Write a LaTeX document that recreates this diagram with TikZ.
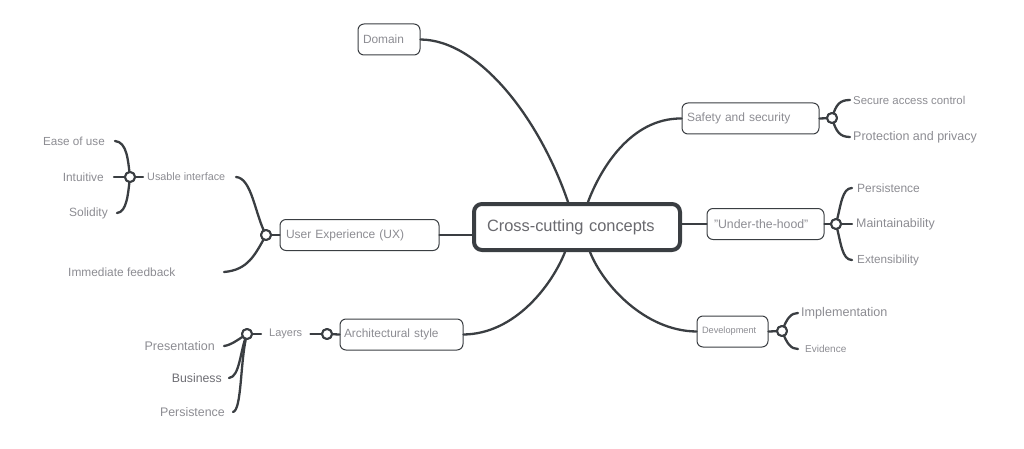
\documentclass[tikz,border=0pt]{standalone}
\usepackage{fontspec}
\setmainfont{Liberation Sans}
\usetikzlibrary{positioning}
\definecolor{linegray}{RGB}{58,62,66}
\definecolor{txtgray}{RGB}{140,140,146}
\definecolor{maingray}{RGB}{105,105,110}
\newcommand\fsz[1]{\fontsize{#1}{#1}\selectfont}
\begin{document}
\begin{tikzpicture}[x=1pt, y=-1pt, line join=round, line cap=round,
		branch/.style={draw=linegray, line width=2.3pt},
		topic/.style={draw=linegray, line width=1pt, rounded corners=6pt, text=txtgray, inner xsep=5pt, inner ysep=0pt, minimum height=31pt, align=left},
		leaf/.style={text=txtgray, inner sep=0pt},
		knob/.style={circle, draw=linegray, fill=white, line width=2pt, minimum size=10pt, inner sep=0pt}]
	\useasboundingbox (0,0) rectangle (1024,449);
	% central topic
	\node[draw=linegray, line width=4pt, rounded corners=8pt, text=maingray, minimum width=206pt, minimum height=46pt, inner xsep=13pt, text width=180pt, align=left, font=\fsz{16.4}] (cc) at (577,227) {Cross-cutting concepts};
	% main topics
	\node[topic, minimum width=62pt, text width=52pt, font=\fsz{11.9}] (dom) at (389,39.5) {Domain};
	\node[topic, minimum width=137pt, text width=127pt, font=\fsz{12}] (safe) at (750.5,118.5) {Safety and security};
	\node[topic, minimum width=113pt, text width=103pt, inner xsep=7pt, font=\fsz{12.3}] (uth) at (765.5,224) {"Under-the-hood"};
	\node[topic, minimum width=71pt, text width=61pt, font=\fsz{9.2}] (dev) at (732.5,331.5) {Development};
	\node[topic, minimum width=159pt, text width=147pt, inner xsep=6pt, font=\fsz{12}] (ux) at (359.5,235) {User Experience (UX)};
	\node[topic, minimum width=123pt, text width=115pt, inner xsep=4pt, font=\fsz{11.9}] (arch) at (401.5,334.5) {Architectural style};
	% connectors from the centre
	\draw[branch] (dom.east) .. controls (480,40) and (540,120) .. ([xshift=-9pt]cc.north);
	\draw[branch] ([xshift=11pt]cc.north) .. controls (600,170) and (630,118) .. (safe.west);
	\draw[branch] (uth.west -| cc.east) -- (uth.west);
	\draw[branch] ([xshift=13pt]cc.south) .. controls (603,285) and (645,331) .. (dev.west);
	\draw[branch] (ux.east) -- (ux.east -| cc.west);
	\draw[branch] (arch.east) .. controls (515,334) and (552,285) .. ([xshift=-12pt]cc.south);
	% knobs
	\node[knob] (sk) at (832,118) {};
	\node[knob] (uk) at (836,224) {};
	\node[knob] (dk) at (782,331) {};
	\node[knob] (uxk) at (266,235) {};
	\node[knob] (uik) at (130,177) {};
	\node[knob] (ak) at (327,334) {};
	\node[knob] (lk) at (247,334) {};
	% leaves
	\node[leaf, anchor=west, font=\fsz{11.4}] (sac) at (853,100) {Secure access control};
	\node[leaf, anchor=west, font=\fsz{12.5}] (pp) at (853,137) {Protection and privacy};
	\node[leaf, anchor=west, font=\fsz{12}] (pers) at (857,188) {Persistence};
	\node[leaf, anchor=west, font=\fsz{12.4}] (maint) at (856,224) {Maintainability};
	\node[leaf, anchor=west, font=\fsz{11.7}] (ext) at (857,260) {Extensibility};
	\node[leaf, anchor=west, font=\fsz{12.6}] (impl) at (801,313) {Implementation};
	\node[leaf, anchor=west, font=\fsz{10}] (evid) at (805,349) {Evidence};
	\node[leaf, anchor=west, font=\fsz{10.8}] (usable) at (147,177) {Usable interface};
	\node[leaf, anchor=west, font=\fsz{11.9}] (imm) at (68,272) {Immediate feedback};
	\node[leaf, anchor=east, font=\fsz{11.7}] (ease) at (105,141) {Ease of use};
	\node[leaf, anchor=east, font=\fsz{11.9}] (intu) at (104,177) {Intuitive};
	\node[leaf, anchor=east, font=\fsz{12}] (soli) at (108,213) {Solidity};
	\node[leaf, anchor=west, font=\fsz{11}] (layers) at (269,334) {Layers};
	\node[leaf, anchor=east, font=\fsz{12.5}] (pres) at (215,346) {Presentation};
	\node[leaf, anchor=east, font=\fsz{12.3}, text=maingray!85!txtgray] (bus) at (222,378) {Business};
	\node[leaf, anchor=east, font=\fsz{12.4}] (pers2) at (225,412) {Persistence};
	% free ends of the UX branches
	\coordinate (uxa) at (236,177);
	\coordinate (uxb) at (224,272);
	% sub-branches
	\draw[branch] (safe.east) -- (sk);
	\draw[branch] (sk.center) .. controls (836,104) and (840,100) .. ([xshift=-3pt]sac.west);
	\draw[branch] (sk.center) .. controls (836,132) and (840,137) .. ([xshift=-3pt]pp.west);
	\draw[branch] (uth.east) -- (uk);
	\draw[branch] (uk.center) .. controls (841,205) and (842,188) .. ([xshift=-5pt]pers.west);
	\draw[branch] (uk.center) -- ([xshift=-4pt]maint.west);
	\draw[branch] (uk.center) .. controls (841,243) and (842,260) .. ([xshift=-5pt]ext.west);
	\draw[branch] (dev.east) -- (dk);
	\draw[branch] (dk.center) .. controls (787,318) and (791,313) .. ([xshift=-3pt]impl.west);
	\draw[branch] (dk.center) .. controls (787,344) and (791,349) .. ([xshift=-7pt]evid.west);
	\draw[branch] (ux.west) -- (uxk);
	\draw[branch] (uxk.center) .. controls (255,215) and (252,178) .. (uxa);
	\draw[branch] (uxk.center) .. controls (255,255) and (248,270) .. (uxb);
	\draw[branch] ([xshift=-4pt]usable.west) -- (uik);
	\draw[branch] (uik.center) .. controls (128,160) and (127,142) .. ([xshift=10pt]ease.east);
	\draw[branch] (uik.center) -- ([xshift=10pt]intu.east);
	\draw[branch] (uik.center) .. controls (128,194) and (127,212) .. ([xshift=9pt]soli.east);
	\draw[branch] (arch.west) -- (ak);
	\draw[branch] (ak) -- ([xshift=8pt]layers.east);
	\draw[branch] ([xshift=-8pt]layers.west) -- (lk);
	\draw[branch] (lk.center) .. controls (240,338) and (232,345) .. ([xshift=9pt]pres.east);
	\draw[branch] (lk.center) .. controls (240,350) and (240,377) .. ([xshift=7pt]bus.east);
	\draw[branch] (lk.center) .. controls (240,360) and (242,410) .. ([xshift=8pt]pers2.east);
	% redraw knobs on top
	\foreach \k in {sk,uk,dk,uxk,uik,ak,lk}
		\node[knob] at (\k) {};
\end{tikzpicture}
\end{document}
